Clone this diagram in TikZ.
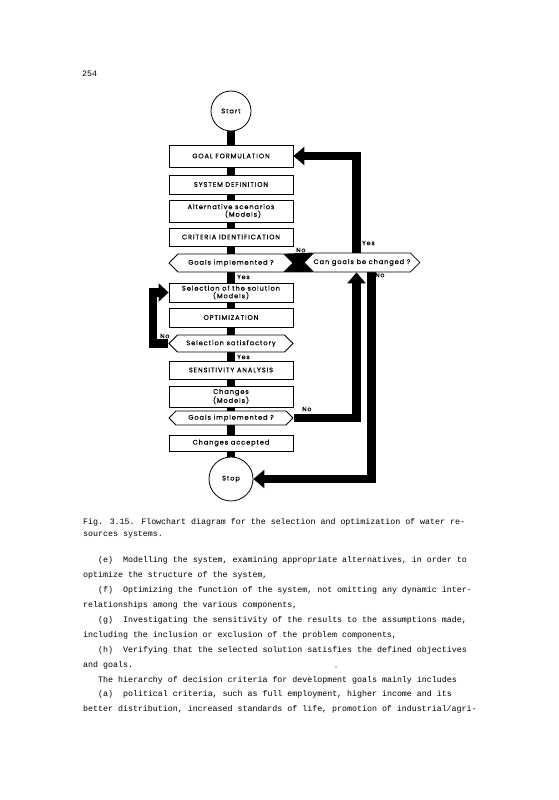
\documentclass[tikz,border=0pt]{standalone}
\usepackage{fontspec}
\setmainfont{Liberation Serif}
\newfontfamily\flowfont[LetterSpace=14,FakeBold=0.3]{Poppins}
\newfontfamily\typefont{Liberation Mono}
\usetikzlibrary{shapes.symbols,arrows.meta}
\pgfdeclarelayer{bg}
\pgfsetlayers{bg,main}
\begin{document}
\begin{tikzpicture}[x=1pt,y=-1pt,
  box/.style={draw, fill=white, line width=0.8pt, minimum width=124pt, inner sep=0pt,
    font=\flowfont\fontsize{6.6}{7.6}\selectfont, align=center},
  hexa/.style={signal, signal to=west and east, draw, fill=white, line width=0.8pt,
    minimum width=124pt, inner sep=0pt, font=\flowfont\fontsize{6.6}{7.6}\selectfont},
  term/.style={circle, draw, fill=white, line width=0.8pt, minimum size=#1, inner sep=0pt,
    font=\flowfont\fontsize{6.6}{7.6}\selectfont},
  bar/.style={line width=8.5pt, black, line join=miter},
  tip/.style={-{Triangle[length=11pt,width=18pt]}},
  lbl/.style={font=\flowfont\fontsize{6.2}{7}\selectfont, inner sep=0pt, anchor=west},
  body/.style={font=\typefont\fontsize{8.3}{10}\selectfont, inner sep=0pt, anchor=base west}
]
\useasboundingbox (0,0) rectangle (558,800);

% flowchart nodes
\node[term=40pt] (start) at (231,111) {Start};
\node[box, minimum height=22pt] (goal) at (231,156) {GOAL FORMULATION};
\node[box, minimum height=19pt] (sysdef) at (231,184.5) {SYSTEM DEFINITION};
\node[box, minimum height=22pt] (alt) at (231,211) {Alternative scenarios\\\hspace*{24pt}(Models)};
\node[box, minimum height=18pt] (crit) at (231,237) {CRITERIA IDENTIFICATION};
\node[hexa, minimum height=18pt] (g1) at (231,263) {Goals implemented ?};
\node[hexa, minimum height=19pt, minimum width=114pt] (cg) at (362,262.5) {Can goals be changed ?};
\node[box, minimum height=19pt] (sel) at (231,292.5) {Selection of the solution\\(Models)};
\node[box, minimum height=19pt] (opt) at (231,317.5) {OPTIMIZATION};
\node[hexa, minimum height=17pt] (ss) at (231,343.5) {Selection satisfactory};
\node[box, minimum height=18pt] (sens) at (231,370) {SENSITIVITY ANALYSIS};
\node[box, minimum height=21pt] (chg) at (231,396.5) {Changes\\(Models)};
\node[hexa, minimum height=14pt] (g2) at (231,418) {Goals implemented ?};
\node[box, minimum height=16pt] (acc) at (231,443) {Changes accepted};
\node[term=44pt] (stop) at (231,479) {Stop};
\coordinate (lc) at (153,292.5);

% connectors
\begin{pgfonlayer}{bg}
\fill[white] (0,0) rectangle (558,800);
\draw[bar] (start.south) -- (stop.north);
\fill ([xshift=-9pt]g1.east |- g1.north) -- ([xshift=9pt]cg.west |- cg.north)
      -- ([xshift=9pt]cg.west |- cg.south) -- ([xshift=-9pt]g1.east |- g1.south) -- cycle;
\draw[bar,tip] ([xshift=-5.5pt]cg.north) |- (goal.east);
\draw[bar] (ss.west) -| ([yshift=-4.25pt]lc);
\draw[bar,-{Triangle[length=10pt,width=18pt]}] ([xshift=-4.25pt]lc) -- (sel.west);
\draw[bar,tip] (g2.east) -| ([xshift=-5.5pt]cg.south);
\draw[bar,tip] ([xshift=9.5pt]cg.south) |- (stop.east);
\end{pgfonlayer}

% yes / no labels
\node[lbl] (l1) at (237,277) {Yes};
\node[lbl] (l2) at (296,250) {No};
\node[lbl] (l3) at (362,243) {Yes};
\node[lbl] (l4) at (375,275) {No};
\node[lbl] (l5) at (160,336) {No};
\node[lbl] (l6) at (237,357) {Yes};
\node[lbl] (l7) at (302,409) {No};

% page text
\node[body] (pg) at (82,76) {254};
\node[body] (c1) at (83,524) {Fig. 3.15. Flowchart diagram for the selection and optimization of water re-};
\node[body] (c2) at (83,536) {sources systems.};
\node[body] (t1) at (98,562) {(e)~ Modelling the system, examining appropriate alternatives, in order to};
\node[body] (t2) at (83,577) {optimize the structure of the system,};
\node[body] (t3) at (98,592) {(f)~ Optimizing the function of the system, not omitting any dynamic inter-};
\node[body] (t4) at (83,607) {relationships among the various components,};
\node[body] (t5) at (98,622) {(g)~ Investigating the sensitivity of the results to the assumptions made,};
\node[body] (t6) at (83,637) {including the inclusion or exclusion of the problem components,};
\node[body] (t7) at (98,652) {(h)~ Verifying that the selected solution satisfies the defined objectives};
\node[body] (t8) at (83,667) {and goals.};
\node[body] (t9) at (98,682) {The hierarchy of decision criteria for development goals mainly includes};
\node[body] (t10) at (98,696) {(a)~ political criteria, such as full employment, higher income and its};
\node[body] (t11) at (83,711) {better distribution, increased standards of life, promotion of industrial/agri-};
\fill (336,667) circle (0.7pt);
\end{tikzpicture}
\end{document}
